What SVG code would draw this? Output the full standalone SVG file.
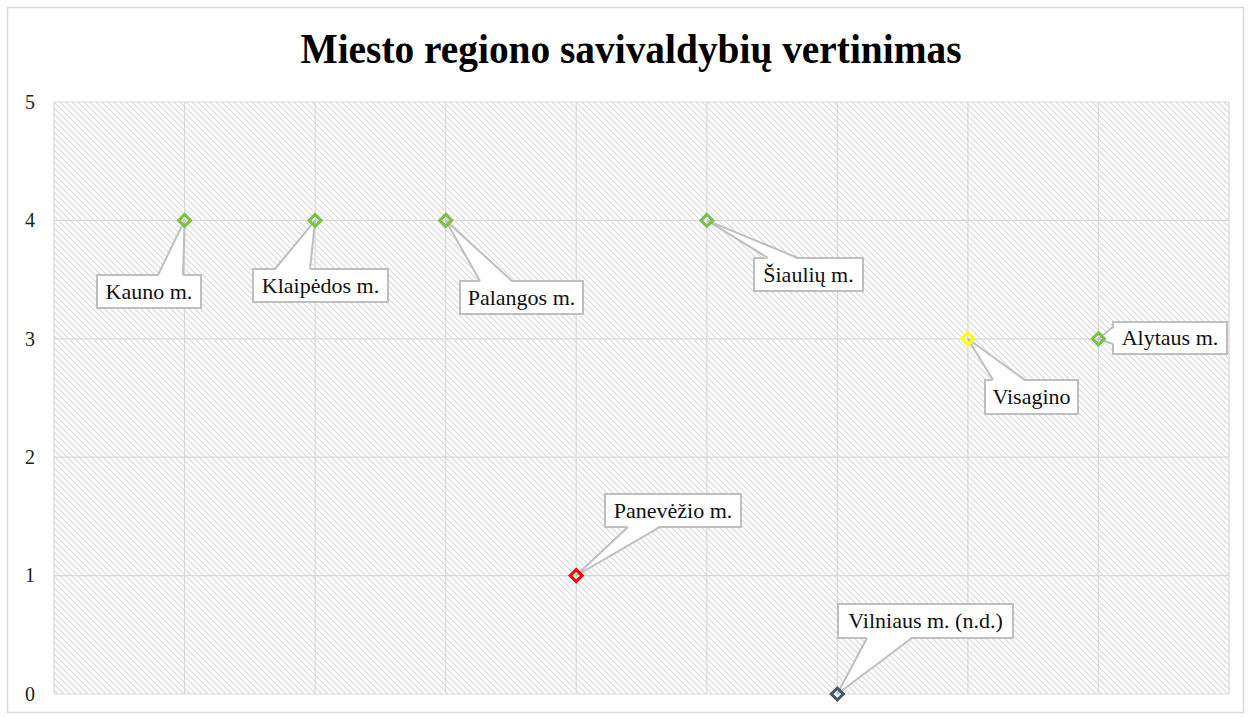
<svg xmlns="http://www.w3.org/2000/svg" width="1250" height="717" viewBox="0 0 1250 717">
<defs>
<pattern id="hatch" patternUnits="userSpaceOnUse" width="6" height="6">
<rect width="6" height="6" fill="#ffffff"/>
<path d="M-1,-1 L7,7 M-1,5 L1,7 M5,-1 L7,1" stroke="#dedede" stroke-width="1.3"/>
</pattern>
<path id="dia" d="M0,-6 L6,0 L0,6 L-6,0 Z"/>
</defs>
<style>
.grid{stroke:#d9d9d9;stroke-width:1.2;fill:none}
.tick{font-family:"Liberation Serif",serif;font-size:20px;fill:#222;text-anchor:middle}
.box{fill:#ffffff;stroke:#bfbfbf;stroke-width:2}
.lbl{font-family:"Liberation Serif",serif;font-size:22px;fill:#111;text-anchor:middle}
.wf{fill:#ffffff;stroke:none}
.ws{fill:none;stroke:#bfbfbf;stroke-width:2;stroke-linejoin:miter}
.mk{fill:none;stroke-width:3}
.g{stroke:#7ac143}
</style>
<rect x="0" y="0" width="1250" height="717" fill="#ffffff"/>
<rect x="7.5" y="7.5" width="1236" height="705" fill="none" stroke="#d9d9d9" stroke-width="1.5"/>
<text x="631" y="63" font-family="Liberation Serif, serif" font-weight="bold" font-size="43" fill="#000" text-anchor="middle" textLength="661" lengthAdjust="spacingAndGlyphs">Miesto regiono savivaldybių vertinimas</text>

<g id="plot">
<rect x="54" y="102" width="1175" height="592" fill="url(#hatch)"/>
<path class="grid" d="M54,102H1229M54,220.4H1229M54,338.8H1229M54,457.2H1229M54,575.6H1229M54,694H1229
M54,102V694M184.6,102V694M315.1,102V694M445.7,102V694M576.2,102V694M706.8,102V694M837.3,102V694M967.9,102V694M1098.4,102V694M1229,102V694"/>
<text class="tick" x="30" y="109">5</text>
<text class="tick" x="30" y="227">4</text>
<text class="tick" x="30" y="346">3</text>
<text class="tick" x="30" y="464">2</text>
<text class="tick" x="30" y="582">1</text>
<text class="tick" x="30" y="701">0</text>
</g>

<g id="node-kauno"><rect class="box" x="97" y="275" width="104" height="33"/><text class="lbl" x="149" y="299">Kauno m.</text></g>
<g id="node-klaipedos"><rect class="box" x="253" y="269" width="135" height="33"/><text class="lbl" x="320.5" y="293">Klaipėdos m.</text></g>
<g id="node-palangos"><rect class="box" x="460" y="281" width="123" height="33"/><text class="lbl" x="521.5" y="305">Palangos m.</text></g>
<g id="node-panevezio"><rect class="box" x="605" y="494" width="136" height="33"/><text class="lbl" x="673" y="518">Panevėžio m.</text></g>
<g id="node-siauliu"><rect class="box" x="754" y="258" width="109" height="33"/><text class="lbl" x="808.5" y="282">Šiaulių m.</text></g>
<g id="node-vilniaus"><rect class="box" x="838" y="604" width="175" height="34"/><text class="lbl" x="925.5" y="628">Vilniaus m. (n.d.)</text></g>
<g id="node-visagino"><rect class="box" x="985" y="380" width="93" height="34"/><text class="lbl" x="1031.5" y="404">Visagino</text></g>
<g id="node-alytaus"><rect class="box" x="1113" y="322" width="114" height="32"/><text class="lbl" x="1170" y="345">Alytaus m.</text></g>

<g id="connectors">
<polygon class="wf" points="158,276.5 184.6,220.4 183,276.5"/><path class="ws" d="M158,275 L184.6,220.4 L183,275"/>
<polygon class="wf" points="275,270.5 315.1,220.4 310,270.5"/><path class="ws" d="M275,269 L315.1,220.4 L310,269"/>
<polygon class="wf" points="480,282.5 445.7,220.4 512,282.5"/><path class="ws" d="M480,281 L445.7,220.4 L512,281"/>
<polygon class="wf" points="628,525.5 576.2,575.6 660,525.5"/><path class="ws" d="M628,527 L576.2,575.6 L660,527"/>
<polygon class="wf" points="768,259.5 706.8,220.4 798,259.5"/><path class="ws" d="M768,258 L706.8,220.4 L798,258"/>
<polygon class="wf" points="867,636.5 837.3,694 912,636.5"/><path class="ws" d="M867,638 L837.3,694 L912,638"/>
<polygon class="wf" points="993,381.5 967.9,338.8 1025,381.5"/><path class="ws" d="M993,380 L967.9,338.8 L1025,380"/>
<polygon class="wf" points="1114.5,327 1098.4,338.8 1114.5,344"/><path class="ws" d="M1113,327 L1098.4,338.8 L1113,344"/>
</g>

<g id="points">
<use id="pt-kauno" href="#dia" class="mk g" x="184.6" y="220.4"/>
<use id="pt-klaipedos" href="#dia" class="mk g" x="315.1" y="220.4"/>
<use id="pt-palangos" href="#dia" class="mk g" x="445.7" y="220.4"/>
<use id="pt-panevezio" href="#dia" class="mk" stroke="#ff0000" x="576.2" y="575.6"/>
<use id="pt-siauliu" href="#dia" class="mk g" x="706.8" y="220.4"/>
<use id="pt-vilniaus" href="#dia" class="mk" stroke="#44546a" x="837.3" y="694"/>
<use id="pt-visagino" href="#dia" class="mk" stroke="#ffff00" x="967.9" y="338.8"/>
<use id="pt-alytaus" href="#dia" class="mk g" x="1098.4" y="338.8"/>
</g>
</svg>
